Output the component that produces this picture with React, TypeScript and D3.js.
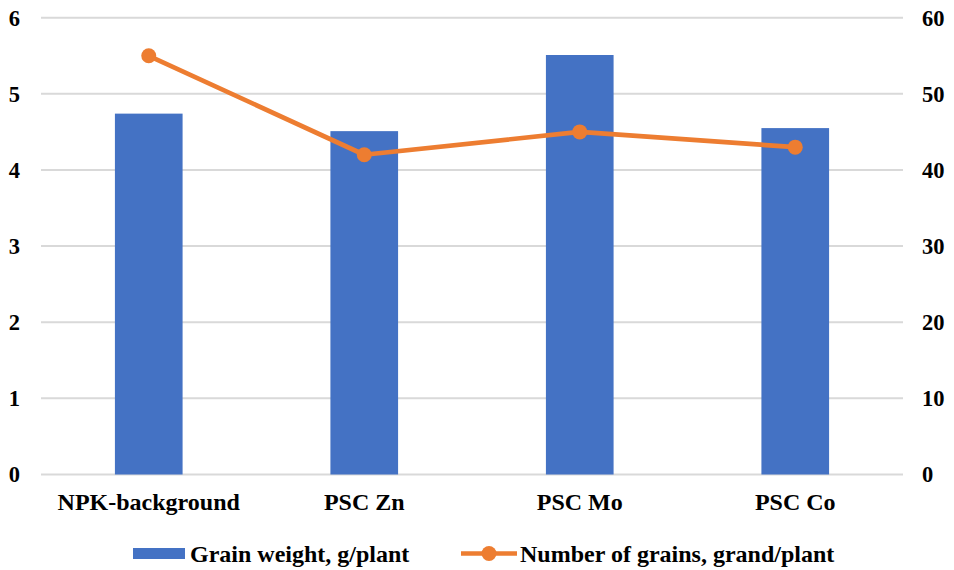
import React from "react";
import * as d3 from "d3";

const categories = ["NPK-background", "PSC Zn", "PSC Mo", "PSC Co"];
const grainWeight = [4.74, 4.51, 5.51, 4.55];
const grainCount = [55, 42, 45, 43];
const leftTicks = [0, 1, 2, 3, 4, 5, 6];
const rightTicks = [0, 10, 20, 30, 40, 50, 60];
const seriesNames = ["Grain weight, g/plant", "Number of grains, grand/plant"];

const W = 954;
const H = 570;
const plot = { left: 41, right: 903, top: 17.7, bottom: 474.5 };
const BLUE = "#4472C4";
const ORANGE = "#ED7D31";
const FONT = '"Liberation Serif", "DejaVu Serif", serif';

export default function App() {
  const x = d3.scaleBand<string>().domain(categories).range([plot.left, plot.right]).paddingInner(0.686).paddingOuter(0.343);
  const yL = d3.scaleLinear().domain([0, 6]).range([plot.bottom, plot.top]);
  const yR = d3.scaleLinear().domain([0, 60]).range([plot.bottom, plot.top]);
  const cx = (c: string) => (x(c) ?? 0) + x.bandwidth() / 2;
  const line = d3
    .line<number>()
    .x((_, i) => cx(categories[i]))
    .y((d) => yR(d));

  const textStyle = { fontFamily: FONT, fontWeight: 700 } as React.CSSProperties;

  return (
    <svg width={W} height={H} style={{ position: "absolute", left: 0, top: 0, background: "#fff" }}>
      {leftTicks.map((t) => (
        <line key={t} x1={plot.left} x2={plot.right} y1={yL(t)} y2={yL(t)} stroke="#D9D9D9" strokeWidth={2} />
      ))}
      {categories.map((c, i) => (
        <rect key={c} x={x(c)} y={yL(grainWeight[i])} width={x.bandwidth()} height={yL(0) - yL(grainWeight[i])} fill={BLUE} />
      ))}
      <path d={line(grainCount) ?? ""} fill="none" stroke={ORANGE} strokeWidth={4.7} strokeLinejoin="round" />
      {grainCount.map((v, i) => (
        <circle key={i} cx={cx(categories[i])} cy={yR(v)} r={7.5} fill={ORANGE} />
      ))}
      <g style={textStyle} fill="#000">
        {leftTicks.map((t) => (
          <text key={t} x={20} y={yL(t)} dy="0.35em" textAnchor="end" style={{ fontSize: 22.5 }}>{t}</text>
        ))}
        {rightTicks.map((t) => (
          <text key={t} x={922} y={yR(t)} dy="0.35em" textAnchor="start" style={{ fontSize: 22.5 }}>{t}</text>
        ))}
        {categories.map((c) => (
          <text key={c} x={cx(c)} y={510} textAnchor="middle" style={{ fontSize: 24 }}>{c}</text>
        ))}
        <rect x={133} y={548} width={52} height={11} fill={BLUE} />
        <text x={190} y={562} style={{ fontSize: 24 }}>{seriesNames[0]}</text>
        <line x1={461} x2={517} y1={553.5} y2={553.5} stroke={ORANGE} strokeWidth={4.7} />
        <circle cx={489} cy={553.5} r={7.5} fill={ORANGE} />
        <text x={520} y={562} style={{ fontSize: 24 }}>{seriesNames[1]}</text>
      </g>
    </svg>
  );
}
